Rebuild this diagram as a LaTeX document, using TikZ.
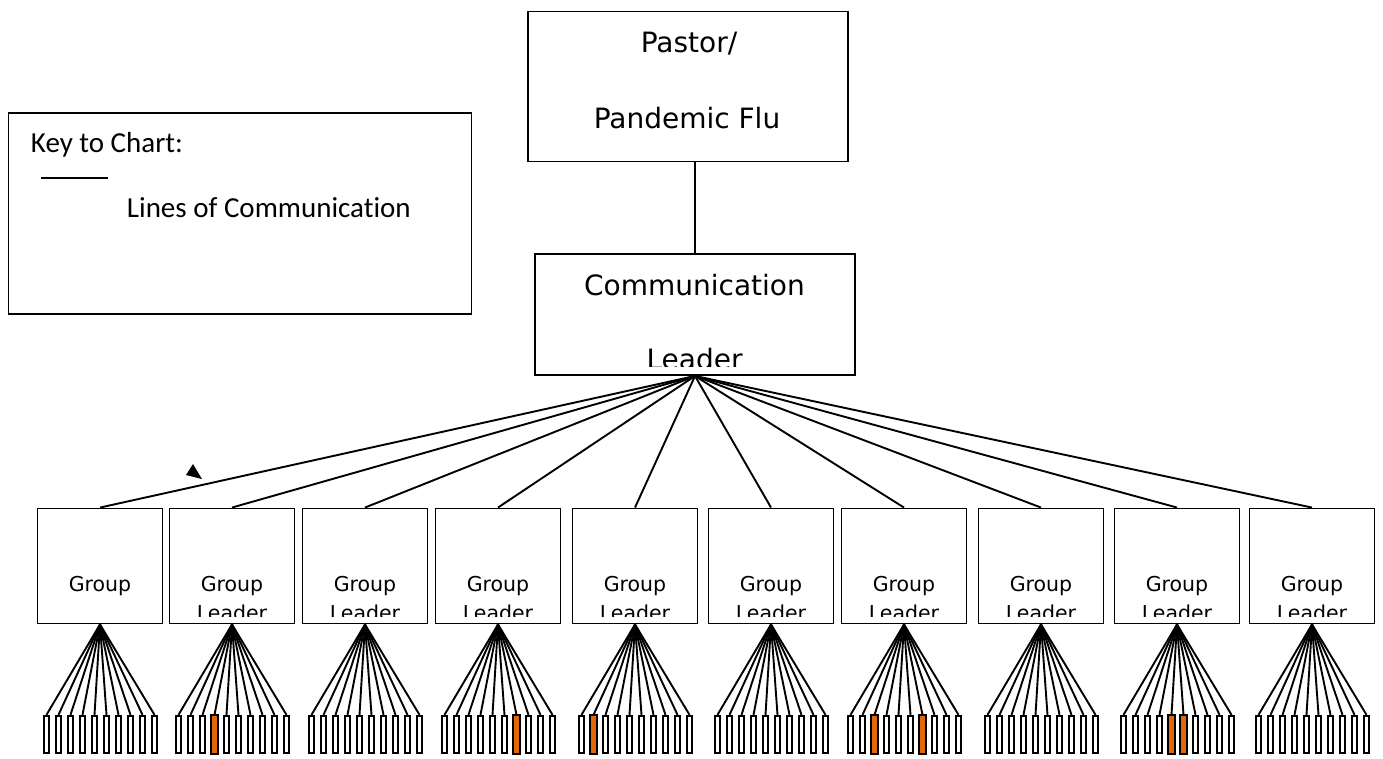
\documentclass[tikz,border=0pt]{standalone}
\usepackage{fontspec}
\setmainfont{DejaVu Sans}
\newfontfamily\keyfont[Ligatures=NoCommon]{Carlito}
\usetikzlibrary{positioning}
\definecolor{sickcolor}{RGB}{228,104,10}

\begin{document}
\begin{tikzpicture}[x=1pt, y=-1pt, line width=1.9pt,
    box/.style={draw, rectangle, inner sep=0pt},
    toptext/.style={inner sep=0pt, anchor=base, font=\fontsize{28}{34}\selectfont},
    grouptext/.style={inner sep=0pt, anchor=base, font=\fontsize{20.5}{25}\selectfont},
    keytext/.style={inner sep=0pt, anchor=base west, font=\keyfont\fontsize{29}{35}\selectfont},
    member/.style={draw, rectangle, inner sep=0pt, minimum width=5pt, minimum height=37.5pt}]
    \useasboundingbox (0,0) rectangle (1383,758);

    % Key to the chart
    \node[box, minimum width=463pt, minimum height=201pt] (key) at (240,213.5) {};
    \node[keytext] (keytitle) at (30,152) {Key to Chart:};
    \coordinate (sample-a) at (41,178);
    \coordinate (sample-b) at (108,178);
    \draw (sample-a) -- (sample-b);
    \node[keytext] (keyline) at (126,217) {Lines of Communication};

    % Top of the chart
    \node[box, minimum width=320pt, minimum height=150pt] (pastor) at (688,86.5) {};
    \node[toptext] (pastor-l1) at (689,52) {Pastor/};
    \node[toptext] (pastor-l2) at (687,128) {Pandemic Flu};

    \node[box, minimum width=320pt, minimum height=121pt] (commlead) at (695,314.5) {};
    \begin{scope}
        \clip (536,255) rectangle (854,366);
        \node[toptext] (commlead-l1) at (694.5,295) {Communication};
        \node[toptext] (commlead-l2) at (694.5,369) {Leader};
    \end{scope}
    \draw (commlead.north) -- (commlead.north |- pastor.south);

    % Group leaders
    \foreach \cx [count=\g] in {100,232,365,498,635,771,904,1041,1177,1312} {
        \node[box, minimum width=125pt, minimum height=115pt] (grp\g) at (\cx,566) {};
        \begin{scope}
            \clip (\cx-61,510) rectangle (\cx+61,616);
            \node[grouptext] (grp\g-l1) at (\cx,591) {Group};
            \ifnum\g>1
                \node[grouptext] (grp\g-l2) at (\cx,620) {Leader};
            \fi
        \end{scope}
        \draw (commlead.south) -- (grp\g.north);
        % members of the group
        \foreach \i in {0,...,9} {
            \node[member] (mem-\g-\i) at (\cx-53.5+12*\i,734.5) {};
            \draw (grp\g.south) -- (mem-\g-\i.north);
        }
    }

    % members marked in orange
    \foreach \g/\i in {2/3,4/6,5/1,7/2,7/6,9/4,9/5}
        \draw[fill=sickcolor] (mem-\g-\i.south west) rectangle (mem-\g-\i.north east);

    % stray arrow head
    \fill (193,464) -- (186,475) -- (202,479) -- cycle;
\end{tikzpicture}
\end{document}
